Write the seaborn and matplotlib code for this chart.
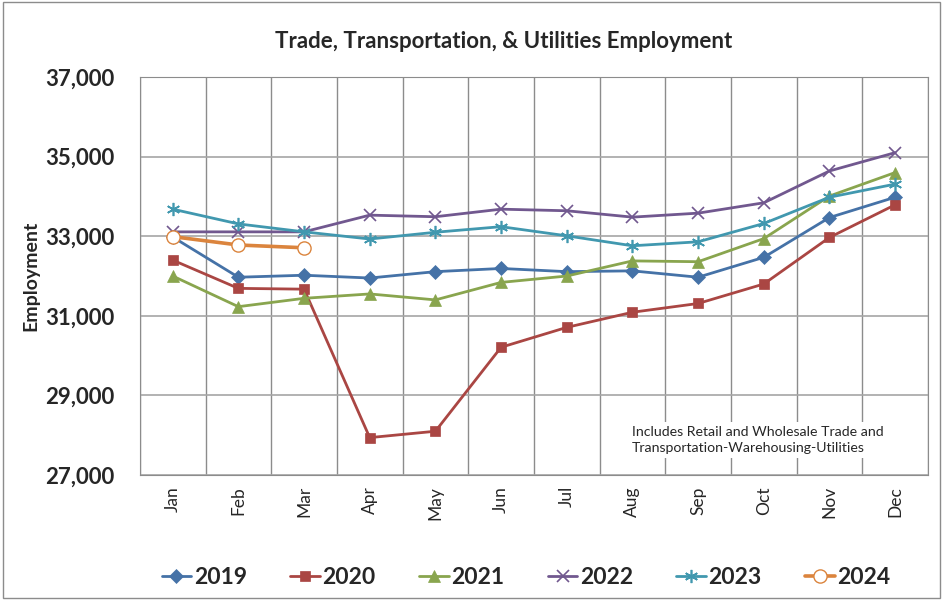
import numpy as np
import pandas as pd
import matplotlib
matplotlib.use("Agg")
import matplotlib.pyplot as plt
import matplotlib.patches as patches
import seaborn as sns

# --Daten--
monate = ["Jan", "Feb", "Mar", "Apr", "May", "Jun", "Jul", "Aug", "Sep", "Oct", "Nov", "Dec"]
werte_2019 = [32980, 31970, 32020, 31950, 32110, 32190, 32110, 32130, 31970, 32470, 33470, 33980]
werte_2020 = [32400, 31690, 31670, 27940, 28100, 30210, 30710, 31090, 31310, 31800, 32970, 33790]
werte_2021 = [32000, 31230, 31440, 31550, 31400, 31840, 32000, 32380, 32360, 32940, 34010, 34600]
werte_2022 = [33110, 33110, 33110, 33530, 33490, 33680, 33640, 33480, 33580, 33840, 34640, 35100]
werte_2023 = [33680, 33310, 33110, 32930, 33100, 33240, 33010, 32760, 32860, 33320, 33980, 34310]
werte_2024 = [32990, 32780, 32710]

jahre = ["2019", "2020", "2021", "2022", "2023", "2024"]
farben = ["#4572A7", "#AA4643", "#89A54E", "#71588F", "#4198AF", "#DB843D"]
marker = ["D", "s", "^", "x", (6, 2, 0), "o"]
alle_werte = [werte_2019, werte_2020, werte_2021, werte_2022, werte_2023, werte_2024]

sns.set_style("white")
plt.rcParams['font.family'] = ['Lato', 'DejaVu Sans']

fig = plt.figure(figsize=(9.45, 6), dpi=100)
ax = fig.add_axes([0.148, 0.2083, 0.834, 0.6633])

for jahr, farbe, mk, werte in zip(jahre, farben, marker, alle_werte):
    df = pd.DataFrame({"Monat": monate[:len(werte)], "Wert": werte})
    df["x"] = [monate.index(m) for m in df["Monat"]]
    groesse = {"D": 7, "s": 7.5, "^": 8, "x": 8.5, "o": 9.5}.get(mk, 9) if not isinstance(mk, tuple) else 9.5
    if jahr == "2024":
        kw = dict(markerfacecolor="white", markeredgecolor=farbe, markeredgewidth=1)
    else:
        kw = dict(markeredgecolor=farbe, markeredgewidth=1.2 if mk == "x" or isinstance(mk, tuple) else 0.5)
    sns.lineplot(data=df, x="x", y="Wert", color=farbe, marker=mk, markersize=groesse,
                 linewidth=2.6 if jahr == "2024" else 2.0, label=jahr, ax=ax, **kw)

ax.set_xlim(-0.5, 11.5)
ax.set_ylim(27000, 37000)
ax.set_yticks(np.arange(27000, 37001, 2000))
ax.set_yticklabels([f"{v:,}" for v in range(27000, 37001, 2000)], fontsize=16, fontweight="bold")
ax.set_xticks(range(12))
ax.set_xticklabels(monate, rotation=90, fontsize=12.5)
ax.set_xticks(np.arange(-0.5, 12, 1), minor=True)
ax.tick_params(axis="x", which="major", length=0, pad=8)
ax.tick_params(axis="x", which="minor", length=14, color="#8c8c8c", direction="out")
ax.tick_params(axis="y", length=0, pad=18)
ax.grid(True, axis="y", color="#a6a6a6", linewidth=1.2)
ax.grid(True, axis="x", which="minor", color="#8c8c8c", linewidth=1.0)
ax.set_axisbelow(True)
for s in ax.spines.values():
    s.set_color("#8c8c8c")
ax.set_xlabel("")
ax.set_ylabel("Employment", fontsize=14, fontweight="bold")
ax.yaxis.set_label_coords(-0.128, 0.5)

fig.text(0.533, 0.93, "Trade, Transportation, & Utilities Employment", ha="center", va="center",
         fontsize=16, fontweight="bold")

ax.text(6.99, 27880, "Includes Retail and Wholesale Trade and\nTransportation-Warehousing-Utilities",
        fontsize=10.2, ha="left", va="center", linespacing=1.4,
        bbox=dict(facecolor="white", edgecolor="none", pad=3))

ax.legend(loc="center", bbox_to_anchor=(0.49, -0.258), ncol=6, frameon=False,
          prop={"weight": "bold", "size": 16.5}, handlelength=1.3, handletextpad=0.1, columnspacing=1.9)

fig.add_artist(patches.Rectangle((0.003, 0.004), 0.992, 0.992, transform=fig.transFigure,
                                 fill=False, edgecolor="#8c8c8c", linewidth=1))

plt.savefig("out.png", dpi=100)
